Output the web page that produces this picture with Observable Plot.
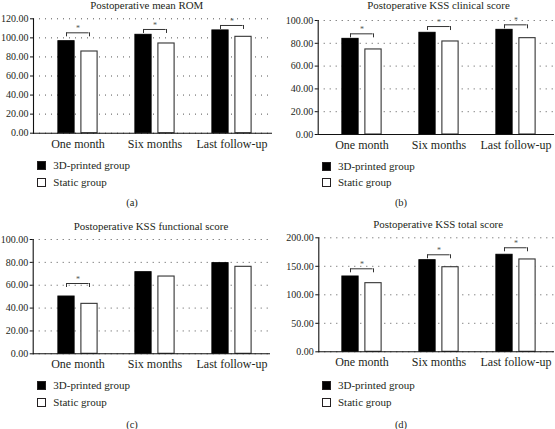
<!DOCTYPE html>
<html><head><meta charset="utf-8">
<script src="https://cdn.jsdelivr.net/npm/d3@7"></script>
<script src="https://cdn.jsdelivr.net/npm/@observablehq/plot@0.6"></script>
<style>
html,body{margin:0;padding:0;background:#fff;}
#root{position:relative;width:555px;height:429px;overflow:hidden;font-family:"Liberation Serif","Times New Roman","DejaVu Serif",serif;color:#231f20;}
.abs{position:absolute;white-space:nowrap;}
.sq{position:absolute;width:7px;height:7px;border:1px solid #231f20;}
svg{position:absolute;}
</style></head><body><div id="root"></div>
<script>
// ---- data ----
const categories = ["One month", "Six months", "Last follow-up"];
const groups = ["3D-printed group", "Static group"];
const titles = ["Postoperative mean ROM", "Postoperative KSS clinical score", "Postoperative KSS functional score", "Postoperative KSS total score"];
const captions = ["(a)", "(b)", "(c)", "(d)"];

const romPrinted = [96.5, 103.2, 107.8];
const romStatic = [85.7, 94.1, 101.1];
const romSig = [105.3, 108.8, 113.0];
const romTicks = [0, 20, 40, 60, 80, 100, 120];

const clinPrinted = [83.9, 89.2, 91.8];
const clinStatic = [74.6, 81.6, 84.5];
const clinSig = [88.3, 94.7, 96.2];
const clinTicks = [0, 20, 40, 60, 80, 100];

const funcPrinted = [50.1, 71.4, 79.3];
const funcStatic = [43.7, 67.6, 76.1];
const funcSig = [61.5, null, null];
const funcTicks = [0, 20, 40, 60, 80, 100];

const totalPrinted = [132.1, 160.7, 170.2];
const totalStatic = [120.4, 148.4, 162.0];
const totalSig = [145.6, 170.2, 182.5];
const totalTicks = [0, 50, 100, 150, 200];

// ---- layout ----
const FONT = '"Liberation Serif","Times New Roman","DejaVu Serif",serif';
const INK = "#231f20";
const panels = [
  {printed: romPrinted, stat: romStatic, sig: romSig, ticks: romTicks,
   left: 0, top: 0, w: 277, h: 155, mt: 18.3, mb: 22.3, ml: 33, mr: 5, xRange: [37.6, 271],
   title: [146.7, 4.7], legend: [37.3, 53.3, 165.3, 181.7], cap: [132, 203]},
  {printed: clinPrinted, stat: clinStatic, sig: clinSig, ticks: clinTicks,
   left: 277, top: 0, w: 278, h: 155, mt: 20, mb: 21, ml: 40.7, mr: 1, xRange: [44.6, 277.9],
   title: [438.5, 4.7], legend: [322, 338, 166, 182], cap: [401, 203]},
  {printed: funcPrinted, stat: funcStatic, sig: funcSig, ticks: funcTicks,
   left: 0, top: 214, w: 277, h: 155, mt: 25, mb: 15.7, ml: 32.7, mr: 7, xRange: [37.6, 271],
   title: [151, 226.3], legend: [37.3, 53.3, 385, 402], cap: [132, 425]},
  {printed: totalPrinted, stat: totalStatic, sig: totalSig, ticks: totalTicks,
   left: 277, top: 214, w: 278, h: 155, mt: 23.3, mb: 17.7, ml: 41.3, mr: 1, xRange: [44.6, 277.9],
   title: [438.2, 224], legend: [322, 338, 385, 402], cap: [401, 425]}
];

const root = document.getElementById("root");
function addText(txt, cx, cy, size, align) {
  const d = document.createElement("div");
  d.className = "abs";
  d.textContent = txt;
  d.style.fontSize = size + "px";
  d.style.lineHeight = "14px";
  if (align === "center") {
    d.style.left = (cx - 150) + "px"; d.style.width = "300px"; d.style.textAlign = "center";
  } else {
    d.style.left = cx + "px";
  }
  d.style.top = (cy - 7) + "px";
  root.appendChild(d);
}

panels.forEach((p, k) => {
  const rows = categories.map((c, i) => ({cat: c, printed: p.printed[i], stat: p.stat[i], sig: p.sig[i]}));
  const sigRows = rows.filter(d => d.sig != null);
  const bw = (p.xRange[1] - p.xRange[0]) / categories.length;
  const barW = 17, gap = 6, off = (barW + gap) / 2;
  const inset = (bw - barW) / 2;
  const brInset = (bw - 2 * off) / 2;
  const chart = Plot.plot({
    width: p.w, height: p.h,
    marginTop: p.mt, marginBottom: p.mb, marginLeft: p.ml, marginRight: p.mr,
    style: {fontFamily: FONT, color: INK, background: "transparent", overflow: "visible"},
    x: {domain: categories, range: p.xRange, padding: 0, axis: null},
    y: {domain: [p.ticks[0], p.ticks[p.ticks.length - 1]], axis: null},
    marks: [
      Plot.gridY({ticks: p.ticks, stroke: "#555", strokeOpacity: 1, strokeDasharray: "1,5"}),
      Plot.barY(rows, {x: "cat", y: "printed", fill: "#000", stroke: "#000", insetLeft: inset, insetRight: inset, dx: -off}),
      Plot.barY(rows, {x: "cat", y: "stat", fill: "#fff", stroke: "#333", strokeWidth: 1.1, insetLeft: inset, insetRight: inset, dx: off}),
      Plot.ruleY([0], {stroke: "#111", strokeWidth: 1.1}),
      Plot.frame({anchor: "left", stroke: "#111", strokeWidth: 1.1}),
      Plot.axisY({ticks: p.ticks, tickFormat: d3.format(".2f"), tickSize: 3, tickPadding: 2, fontSize: 10, label: null, stroke: "#111"}),
      Plot.axisX({tickSize: 0, tickPadding: 6, fontSize: 12, label: null}),
      Plot.ruleY(sigRows, {x1: "cat", x2: "cat", y: "sig", insetLeft: brInset, insetRight: brInset, stroke: "#333"}),
      Plot.ruleX(sigRows, {x: "cat", y1: "sig", y2: "sig", insetBottom: -4, dx: -off, stroke: "#333"}),
      Plot.ruleX(sigRows, {x: "cat", y1: "sig", y2: "sig", insetBottom: -4, dx: off, stroke: "#333"}),
      Plot.text(sigRows, {x: "cat", y: "sig", text: () => "*", dy: -4, fontSize: 8, fill: "#555"})
    ]
  });
  chart.style.left = p.left + "px";
  chart.style.top = p.top + "px";
  root.appendChild(chart);

  addText(titles[k], p.title[0], p.title[1], 10.9, "center");
  // legend
  groups.forEach((g, j) => {
    const cy = p.legend[2 + j];
    const sq = document.createElement("div");
    sq.className = "sq";
    sq.style.left = p.legend[0] + "px";
    sq.style.top = (cy - 4) + "px";
    sq.style.background = j === 0 ? "#000" : "#fff";
    root.appendChild(sq);
    addText(g, p.legend[1], cy, 11, "left");
  });
  addText(captions[k], p.cap[0], p.cap[1], 10.5, "center");
});
</script>
</body></html>
